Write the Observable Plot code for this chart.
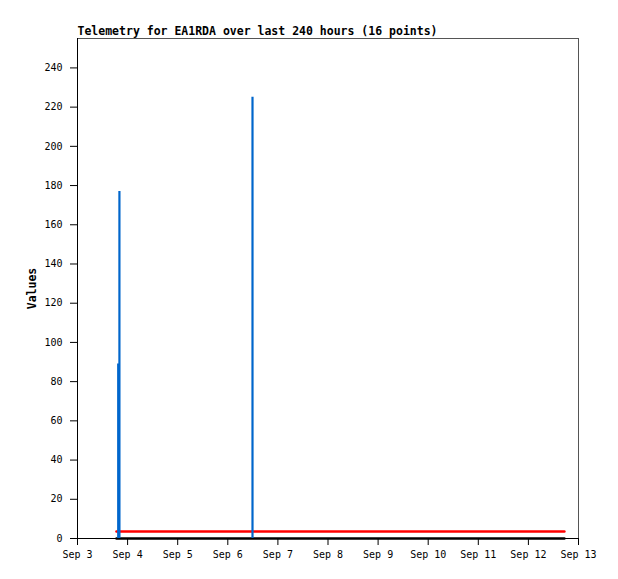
<!DOCTYPE html>
<html>
<head>
<meta charset="utf-8">
<script src="https://cdn.jsdelivr.net/npm/d3@7"></script>
<script src="https://cdn.jsdelivr.net/npm/@observablehq/plot@0.6"></script>
<style>
  html, body { margin: 0; padding: 0; background: #ffffff; }
  #chart svg { display: block; }
</style>
</head>
<body>
<div id="chart"></div>
<script>
const titleText = "Telemetry for EA1RDA over last 240 hours (16 points)";
const yLabel = "Values";

// 16 telemetry timestamps (UTC)
const times = [
  "2023-09-03T18:40Z", "2023-09-03T19:30Z", "2023-09-03T20:05Z", "2023-09-04T10:00Z",
  "2023-09-05T02:00Z", "2023-09-05T18:00Z", "2023-09-06T11:50Z", "2023-09-07T06:00Z",
  "2023-09-07T22:00Z", "2023-09-08T15:00Z", "2023-09-09T08:00Z", "2023-09-10T01:00Z",
  "2023-09-10T18:00Z", "2023-09-11T11:00Z", "2023-09-12T04:00Z", "2023-09-12T17:15Z"
];
// series values
const blueValues  = [0, 89, 177, 0, 0, 0, 225, 0, 0, 0, 0, 0, 0, 0, 0, 0];
const redValues   = [3.6, 3.6, 3.6, 3.6, 3.6, 3.6, 3.6, 3.6, 3.6, 3.6, 3.6, 3.6, 3.6, 3.6, 3.6, 3.6];
const blackValues = [0, 0, 0, 0, 0, 0, 0, 0, 0, 0, 0, 0, 0, 0, 0, 0];

const xStart = "2023-09-03T00:00Z";
const xEnd = "2023-09-13T00:00Z";
const xTicks = ["2023-09-03","2023-09-04","2023-09-05","2023-09-06","2023-09-07","2023-09-08",
                "2023-09-09","2023-09-10","2023-09-11","2023-09-12","2023-09-13"];
const yTicks = [0, 20, 40, 60, 80, 100, 120, 140, 160, 180, 200, 220, 240];
const yMax = 255;

const rows = times.map((t, i) => ({
  t: new Date(t), blue: blueValues[i], red: redValues[i], black: blackValues[i]
}));
const xDomain = [new Date(xStart), new Date(xEnd)];
const xTickDates = xTicks.map(d => new Date(d + "T00:00Z"));
const fmt = d3.utcFormat("%b %-d");

const chart = Plot.plot({
  width: 618,
  height: 579,
  marginLeft: 77,
  marginRight: 40,
  marginTop: 38,
  marginBottom: 41,
  style: { fontFamily: "'DejaVu Sans Mono', monospace", fontSize: "10px", background: "#ffffff", color: "#000" },
  x: { type: "utc", domain: xDomain },
  y: { domain: [0, yMax] },
  marks: [
    Plot.frame({ stroke: "#555555" }),
    Plot.axisX({ ticks: xTickDates, tickFormat: fmt, tickSize: 7, tickPadding: 5, label: null }),
    Plot.axisY({ ticks: yTicks, tickSize: 7, tickPadding: 8, label: null }),
    Plot.text([yLabel], { frameAnchor: "left", dx: -45, rotate: -90, fontWeight: "bold", fontSize: 11.5, textAnchor: "middle" }),
    Plot.text([titleText], { frameAnchor: "top-left", dy: -4, textAnchor: "start", lineAnchor: "bottom", fontWeight: "bold", fontSize: 11.5 }),
    Plot.ruleX([xDomain[0]], { stroke: "#000" }),
    Plot.ruleY([0], { stroke: "#000" }),
    Plot.line(rows, { x: "t", y: "black", stroke: "#000000", strokeWidth: 2.5 }),
    Plot.line(rows, { x: "t", y: "red", stroke: "#ff0000", strokeWidth: 2.5 }),
    Plot.ruleX(rows, { x: "t", y1: 0, y2: "blue", stroke: "#0066cc", strokeWidth: 2.2 })
  ]
});
document.getElementById("chart").appendChild(chart);
</script>
</body>
</html>
